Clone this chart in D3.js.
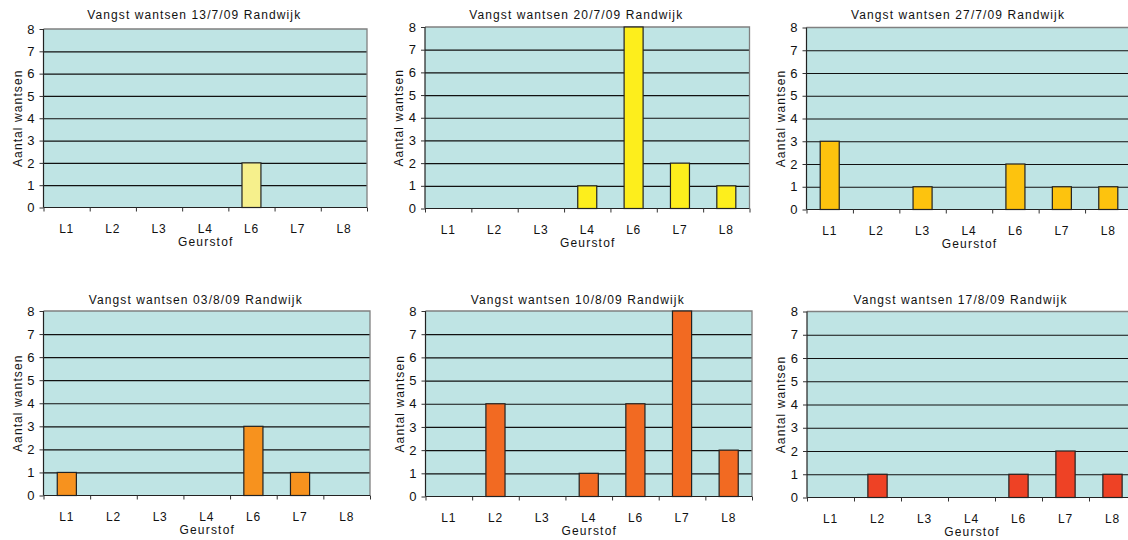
<!DOCTYPE html>
<html>
<head>
<meta charset="utf-8">
<script src="https://cdn.jsdelivr.net/npm/d3@7"></script>
<style>
  html, body { margin: 0; padding: 0; background: #ffffff; }
  svg { display: block; }
  text { font-family: "Liberation Sans", Arial, sans-serif; fill: #111; }
</style>
</head>
<body>
<svg id="chart" width="1128" height="540"></svg>
<script>
// ---- data ----
const categories = ["L1", "L2", "L3", "L4", "L6", "L7", "L8"];
const titles = [
  "Vangst wantsen 13/7/09 Randwijk",
  "Vangst wantsen 20/7/09 Randwijk",
  "Vangst wantsen 27/7/09 Randwijk",
  "Vangst wantsen 03/8/09 Randwijk",
  "Vangst wantsen 10/8/09 Randwijk",
  "Vangst wantsen 17/8/09 Randwijk"
];
const values13jul = [0, 0, 0, 0, 2, 0, 0];
const values20jul = [0, 0, 0, 1, 8, 2, 1];
const values27jul = [3, 0, 1, 0, 2, 1, 1];
const values03aug = [1, 0, 0, 0, 3, 1, 0];
const values10aug = [0, 4, 0, 1, 4, 8, 2];
const values17aug = [0, 1, 0, 0, 1, 2, 1];
const yTicks = [0, 1, 2, 3, 4, 5, 6, 7, 8];
const xAxisTitle = "Geurstof";
const yAxisTitle = "Aantal wantsen";

// ---- layout / style (not data) ----
const series = [values13jul, values20jul, values27jul, values03aug, values10aug, values17aug];
const barColors = ["#f6f08c", "#fdee1c", "#fdc30e", "#f7921e", "#f26a22", "#ee4225"];
const panels = [
  { l: 43.5, r: 367,    t: 29,   b: 207.5 },
  { l: 425,  r: 749.5,  t: 27,   b: 208.5 },
  { l: 806.5,r: 1131.5, t: 27.5, b: 209.5 },
  { l: 43.5, r: 370,    t: 311,  b: 495.5 },
  { l: 425.5,r: 752,    t: 311,  b: 496.5 },
  { l: 807,  r: 1136,   t: 311.5,b: 497.5 }
];
const titleBaseline = [18.5, 18.5, 18.5, 303.5, 303.5, 303.5];
const FONT = "'Liberation Sans', Arial, sans-serif";

const svg = d3.select("#chart");

panels.forEach((p, i) => {
  const vals = series[i];
  const data = categories.map((c, k) => ({ cat: c, v: vals[k] }));
  const g = svg.append("g");
  const w = p.r - p.l;

  const y = d3.scaleLinear().domain([0, 8]).range([p.b, p.t]);
  const xBar = d3.scaleBand().domain(categories).range([p.l, p.r])
    .paddingInner(0.59).paddingOuter(0.295);
  const xCat = d3.scaleBand().domain(categories).range([p.l, p.r]);
  const xIdx = d3.scaleLinear().domain([0, categories.length]).range([p.l, p.r]);

  // plot area background
  g.append("rect")
    .attr("x", p.l).attr("y", p.t).attr("width", w).attr("height", p.b - p.t)
    .attr("fill", "#bfe4e4");

  // gridlines
  const grid = g.append("g")
    .attr("transform", `translate(${p.l},0)`)
    .call(d3.axisLeft(y).tickValues(yTicks.filter(d => d > 0 && d < 8)).tickSize(-w).tickFormat(""));
  grid.select(".domain").remove();
  grid.selectAll("line").attr("stroke", "#111").attr("stroke-width", 1.2);

  // top and right border (gray)
  g.append("path")
    .attr("d", `M${p.l},${y(8)}H${p.r}V${p.b}`)
    .attr("fill", "none").attr("stroke", "#808080").attr("stroke-width", 1.3);

  // bars
  g.selectAll("rect.bar").data(data.filter(d => d.v > 0)).enter().append("rect")
    .attr("class", "bar")
    .attr("x", d => xBar(d.cat))
    .attr("y", d => y(d.v))
    .attr("width", xBar.bandwidth())
    .attr("height", d => y(0) - y(d.v))
    .attr("fill", barColors[i])
    .attr("stroke", "#222").attr("stroke-width", 1.2);

  // y axis
  const ya = g.append("g")
    .attr("transform", `translate(${p.l},0)`)
    .attr("font-size", 13)
    .call(d3.axisLeft(y).tickValues(yTicks).tickSize(4).tickPadding(5).tickFormat(d3.format("d")));
  ya.select(".domain").attr("stroke", "#222").attr("stroke-width", 1.2).attr("d", `M-0,${p.b}V${p.t}`);
  ya.selectAll("line").attr("stroke", "#333");
  ya.selectAll("text").style("font-size", "13px").style("fill", "#111").style("font-family", FONT);

  // x axis boundary ticks
  const xt = g.append("g")
    .attr("transform", `translate(0,${p.b})`)
    .call(d3.axisBottom(xIdx).tickValues(d3.range(categories.length + 1)).tickSize(4).tickFormat(""));
  xt.select(".domain").attr("stroke", "#222").attr("stroke-width", 1.2).attr("d", `M${p.l},0H${p.r}`);
  xt.selectAll("line").attr("stroke", "#333");

  // x category labels
  const xl = g.append("g")
    .attr("transform", `translate(0,${p.b})`)
    .call(d3.axisBottom(xCat).tickSize(0).tickPadding(0));
  xl.select(".domain").remove();
  xl.selectAll("text")
    .attr("dy", null)
    .attr("y", 25)
    .style("font-size", "12px")
    .style("font-family", FONT)
    .style("letter-spacing", "0.8px")
    .style("fill", "#111");

  // axis titles
  g.append("text")
    .attr("x", (p.l + p.r) / 2 + 0.5)
    .attr("y", p.b + 38)
    .attr("text-anchor", "middle")
    .style("font-size", "12px")
    .style("letter-spacing", "1.2px")
    .text(xAxisTitle);

  g.append("text")
    .attr("transform", `translate(${p.l - 22},${(p.t + p.b) / 2}) rotate(-90)`)
    .attr("text-anchor", "middle")
    .style("font-size", "12px")
    .style("letter-spacing", "1.1px")
    .text(yAxisTitle);

  // chart title
  g.append("text")
    .attr("x", (p.l + p.r) / 2 - 11)
    .attr("y", titleBaseline[i])
    .attr("text-anchor", "middle")
    .style("font-size", "12px")
    .style("letter-spacing", "1.1px")
    .text(titles[i]);
});
</script>
</body>
</html>
